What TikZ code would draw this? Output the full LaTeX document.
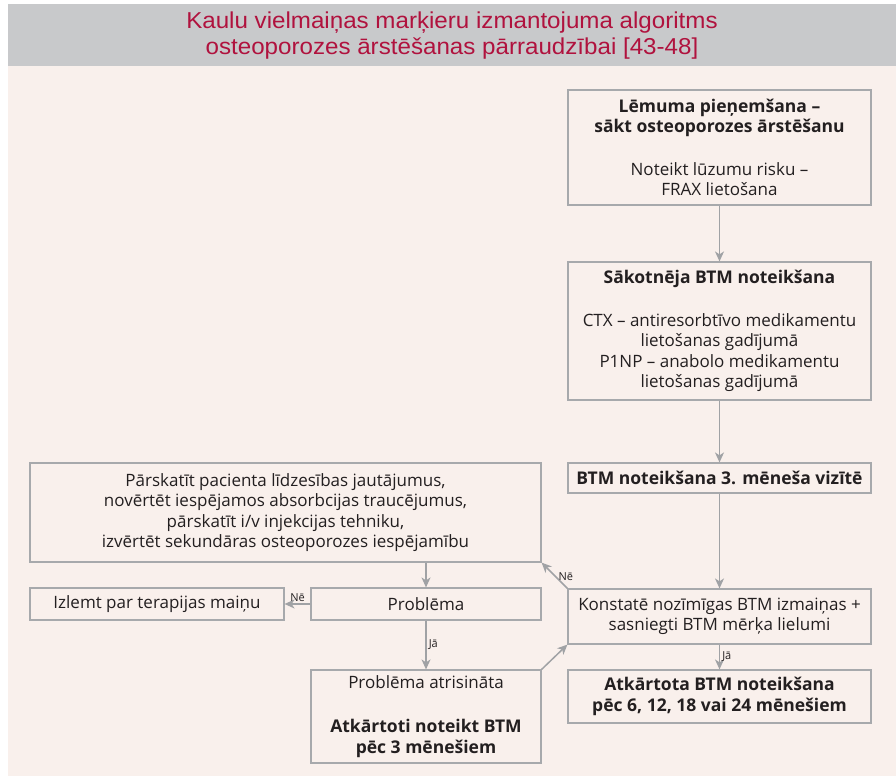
\documentclass[tikz,border=0pt]{standalone}
\usepackage{fontspec}
\setmainfont{Open Sans}
\newfontfamily\titlefont[FakeStretch=1.05]{Liberation Sans}
\usetikzlibrary{arrows.meta}
\definecolor{bgpink}{HTML}{F9F0EC}
\definecolor{titlegray}{HTML}{C8C9CB}
\definecolor{titlered}{HTML}{B0123E}
\definecolor{boxgray}{HTML}{A7A9AC}
\definecolor{arrowgray}{HTML}{A0A2A5}
\definecolor{textdark}{HTML}{231F20}
\newcommand\bxt[1]{{\fontsize{17.5}{20.5}\selectfont\bfseries #1}}
\begin{document}
\begin{tikzpicture}[x=1pt,y=-1pt,
  box/.style={draw=boxgray, line width=1.2pt, inner sep=0pt, align=center,
    font=\fontsize{17}{20.5}\selectfont, text=textdark},
  conn/.style={draw=arrowgray, line width=1.5pt,
    -{Stealth[length=10pt,width=9pt,inset=3pt]}},
  lbl/.style={font=\fontsize{11}{13}\selectfont, text=textdark, inner sep=2pt}]
\useasboundingbox (0,0) rectangle (896,776);
\fill[white] (0,0) rectangle (896,776);
\fill[bgpink] (8,66) rectangle (896,776);
\fill[titlegray] (8,4) rectangle (896,66);
\node[font=\titlefont\fontsize{23}{26}\selectfont, text=titlered, align=center] (title) at (452,36)
  {Kaulu vielmaiņas marķieru izmantojuma algoritms\\osteoporozes ārstēšanas pārraudzībai [43-48]};

\node[box, minimum width=303pt, minimum height=115pt] (b1) at (719.5,147.5)
  {\bxt{Lēmuma pieņemšana –}\\\bxt{sākt osteoporozes ārstēšanu}\\[22pt]Noteikt lūzumu risku –\\FRAX lietošana};
\node[box, minimum width=303pt, minimum height=138pt] (b2) at (719.5,331)
  {\bxt{Sākotnēja BTM noteikšana}\\[22pt]CTX – antiresorbtīvo medikamentu\\lietošanas gadījumā\\P1NP – anabolo medikamentu\\lietošanas gadījumā};
\node[box, minimum width=303pt, minimum height=30pt] (b3) at (719.5,478)
  {\bxt{BTM noteikšana 3. mēneša vizītē}};
\node[box, minimum width=303pt, minimum height=55pt] (b4) at (719.5,616.5)
  {Konstatē nozīmīgas BTM izmaiņas +\\sasniegti BTM mērķa lielumi};
\node[box, minimum width=303pt, minimum height=53pt] (b5) at (719.5,696.5)
  {\bxt{Atkārtota BTM noteikšana}\\\bxt{pēc 6, 12, 18 vai 24 mēnešiem}};
\node[box, minimum width=511pt, minimum height=99pt] (L) at (285.5,512.5)
  {Pārskatīt pacienta līdzesības jautājumus,\\novērtēt iespējamos absorbcijas traucējumus,\\pārskatīt i/v injekcijas tehniku,\\izvērtēt sekundāras osteoporozes iespējamību};
\node[box, minimum width=230pt, minimum height=32pt] (P) at (426,604) {Problēma};
\node[box, minimum width=254pt, minimum height=32pt] (I) at (157,604) {Izlemt par terapijas maiņu};
\node[box, minimum width=230pt, minimum height=93pt] (A) at (426,716.5)
  {Problēma atrisināta\\[24pt]\bxt{Atkārtoti noteikt BTM}\\\bxt{pēc 3 mēnešiem}};

\draw[conn] (b1.south) -- (b2.north);
\draw[conn] (b2.south) -- (b3.north);
\draw[conn] (b3.south) -- (b4.north);
\draw[conn] (b4.south) -- node[lbl, right] {Jā} (b5.north);
\draw[conn] (b4.north west) -- node[lbl, right, pos=0.45] {Nē} (L.south east);
\draw[conn] (L.south -| P.north) -- (P.north);
\draw[conn] (P.west) -- node[lbl, above] {Nē} (I.east);
\draw[conn] (P.south) -- node[lbl, right] {Jā} (A.north);
\draw[conn] (A.north east) -- (b4.south west);
\end{tikzpicture}
\end{document}
